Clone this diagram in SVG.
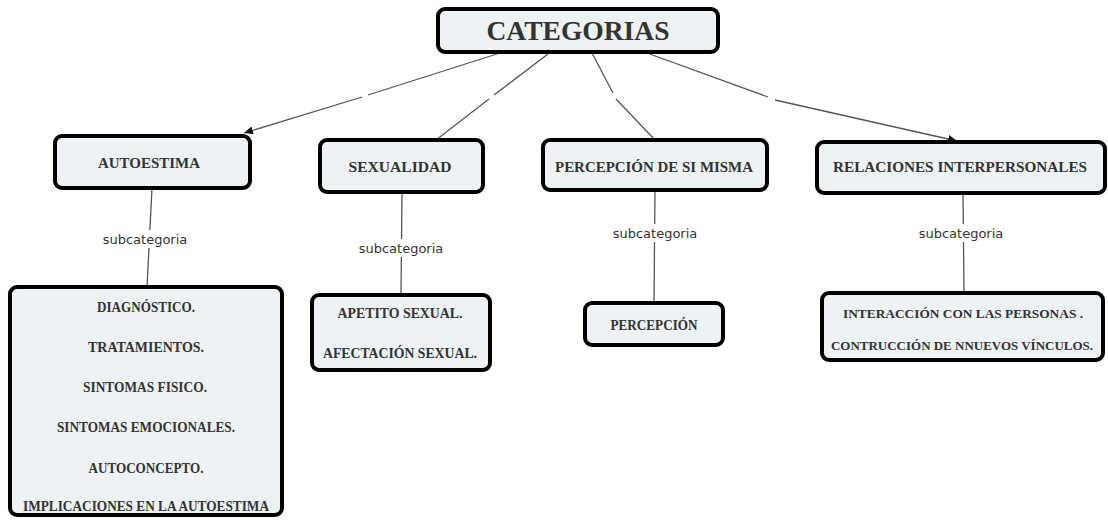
<svg xmlns="http://www.w3.org/2000/svg" width="1108" height="525" viewBox="0 0 1108 525">
<style>
.box{fill:#edf2f4;stroke:#000;stroke-width:4}
.t{font-family:"Liberation Serif","DejaVu Serif",serif;font-weight:bold;fill:#333;text-anchor:middle}
.n{font-size:15px}
.s{font-size:13.5px}
.big{font-size:27px}
.lbl{font-family:"DejaVu Sans","Liberation Sans",sans-serif;font-size:13px;fill:#333;text-anchor:middle}
.c{stroke:#555;stroke-width:1.3;fill:none}
</style>
<defs>
<marker id="ah" markerUnits="userSpaceOnUse" markerWidth="10" markerHeight="10" refX="9" refY="4" orient="auto">
<path d="M0,0 L9,4 L0,8 z" fill="#111"/>
</marker>
</defs>
<rect width="1108" height="525" fill="#fff"/>
<g id="connectors">
<line class="c" x1="500" y1="53" x2="368" y2="95"/>
<line class="c" x1="362" y1="97" x2="244" y2="133" marker-end="url(#ah)"/>
<line class="c" x1="548" y1="54" x2="494" y2="95"/>
<line class="c" x1="489" y1="99" x2="436" y2="140"/>
<line class="c" x1="592" y1="53" x2="613" y2="93"/>
<line class="c" x1="616" y1="99" x2="655" y2="140"/>
<line class="c" x1="647" y1="53" x2="768" y2="97"/>
<line class="c" x1="775" y1="100" x2="957" y2="141" marker-end="url(#ah)"/>
<line class="c" x1="152" y1="188" x2="147" y2="287"/>
<line class="c" x1="402" y1="192" x2="401" y2="295"/>
<line class="c" x1="655" y1="190" x2="654" y2="303"/>
<line class="c" x1="963" y1="193" x2="964" y2="293"/>
<g id="labels">
<rect x="100" y="230" width="90" height="18" fill="#fff"/>
<text class="lbl" x="145" y="244">subcategoria</text>
<rect x="356" y="239" width="90" height="18" fill="#fff"/>
<text class="lbl" x="401" y="253">subcategoria</text>
<rect x="610" y="224" width="90" height="18" fill="#fff"/>
<text class="lbl" x="655" y="238">subcategoria</text>
<rect x="916" y="224" width="90" height="18" fill="#fff"/>
<text class="lbl" x="961" y="238">subcategoria</text>
</g>
</g>
<g id="categorias">
<rect class="box" x="438" y="9" width="280" height="43" rx="7"/>
<text class="t big" x="578" y="40" textLength="183" lengthAdjust="spacingAndGlyphs">CATEGORIAS</text>
</g>
<g id="autoestima">
<rect class="box" x="55" y="136" width="195" height="52" rx="7"/>
<text class="t n" x="149" y="168" textLength="102" lengthAdjust="spacingAndGlyphs">AUTOESTIMA</text>
</g>
<g id="sexualidad">
<rect class="box" x="320" y="140" width="163" height="52" rx="7"/>
<text class="t n" x="400" y="172" textLength="103" lengthAdjust="spacingAndGlyphs">SEXUALIDAD</text>
</g>
<g id="percepcion-si-misma">
<rect class="box" x="543" y="140" width="224" height="50" rx="7"/>
<text class="t n" x="654" y="172" textLength="198" lengthAdjust="spacingAndGlyphs">PERCEPCIÓN DE SI MISMA</text>
</g>
<g id="relaciones">
<rect class="box" x="817" y="142" width="288" height="51" rx="7"/>
<text class="t n" x="960" y="172" textLength="254" lengthAdjust="spacingAndGlyphs">RELACIONES INTERPERSONALES</text>
</g>
<g id="autoestima-sub">
<rect class="box" x="10" y="287" width="272" height="228" rx="7"/>
<text class="t n" x="146" y="312" textLength="98" lengthAdjust="spacingAndGlyphs">DIAGNÓSTICO.</text>
<text class="t n" x="146" y="352" textLength="116" lengthAdjust="spacingAndGlyphs">TRATAMIENTOS.</text>
<text class="t n" x="145" y="392" textLength="124" lengthAdjust="spacingAndGlyphs">SINTOMAS FISICO.</text>
<text class="t n" x="146" y="432" textLength="178" lengthAdjust="spacingAndGlyphs">SINTOMAS EMOCIONALES.</text>
<text class="t n" x="146" y="473" textLength="115" lengthAdjust="spacingAndGlyphs">AUTOCONCEPTO.</text>
<text class="t n" x="146" y="511" textLength="246" lengthAdjust="spacingAndGlyphs">IMPLICACIONES EN LA AUTOESTIMA</text>
</g>
<g id="sexualidad-sub">
<rect class="box" x="312" y="295" width="178" height="75" rx="7"/>
<text class="t n" x="400" y="318" textLength="125" lengthAdjust="spacingAndGlyphs">APETITO SEXUAL.</text>
<text class="t n" x="400" y="358" textLength="154" lengthAdjust="spacingAndGlyphs">AFECTACIÓN SEXUAL.</text>
</g>
<g id="percepcion-sub">
<rect class="box" x="585" y="303" width="138" height="42" rx="7"/>
<text class="t n" x="654" y="330" textLength="87" lengthAdjust="spacingAndGlyphs">PERCEPCIÓN</text>
</g>
<g id="relaciones-sub">
<rect class="box" x="822" y="293" width="281" height="67" rx="7"/>
<text class="t s" x="963" y="318" textLength="240" lengthAdjust="spacingAndGlyphs">INTERACCIÓN CON LAS PERSONAS .</text>
<text class="t s" x="962" y="350" textLength="262" lengthAdjust="spacingAndGlyphs">CONTRUCCIÓN DE NNUEVOS VÍNCULOS.</text>
</g>
</svg>
